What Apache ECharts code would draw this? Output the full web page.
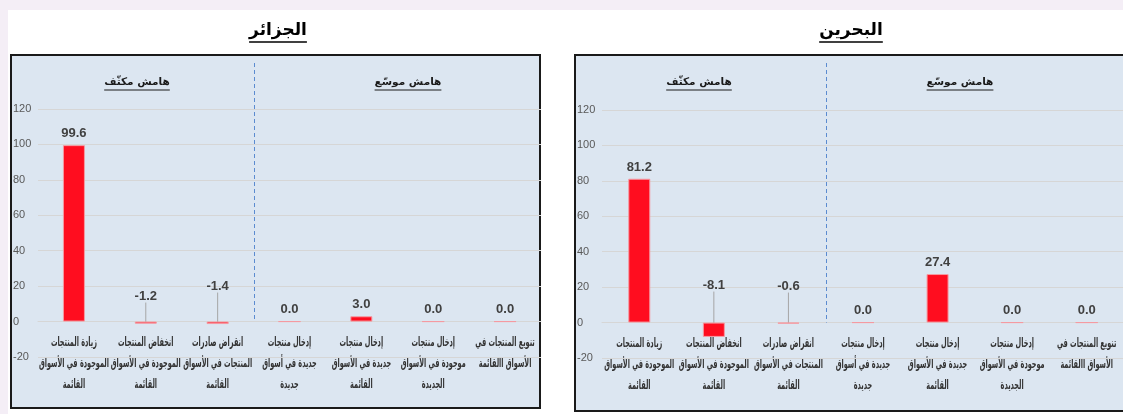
<!DOCTYPE html>
<html>
<head>
<meta charset="utf-8">
<script src="https://cdn.jsdelivr.net/npm/echarts@6/dist/echarts.min.js"></script>
<style>
  html, body { margin: 0; padding: 0; background: #f4eef6; }
  #chart { width: 1123px; height: 414px; }
</style>
</head>
<body>
<div id="chart"></div>
<script>
// البيانات
const categories = [
  'زيادة المنتجات\nالموجودة في الأسواق\nالقائمة',
  'انخفاض المنتجات\nالموجودة في الأسواق\nالقائمة',
  'انقراض صادرات\nالمنتجات في الأسواق\nالقائمة',
  'إدخال منتجات\nجديدة في أسواق\nجديدة',
  'إدخال منتجات\nجديدة في الأسواق\nالقائمة',
  'إدخال منتجات\nموجودة في الأسواق\nالجديدة',
  'تنويع المنتجات في\nالأسواق االقائمة'
];
const algeriaValues = [99.6, -1.2, -1.4, 0.0, 3.0, 0.0, 0.0];
const bahrainValues = [81.2, -8.1, -0.6, 0.0, 27.4, 0.0, 0.0];
const yMin = -20;
const yMax = 120;
const yStep = 20;
const countryNames = ['الجزائر', 'البحرين'];
const marginNames = ['هامش مكثّف', 'هامش موسّع'];

const barRed = '#ff0d1f';
const textDark = '#333333';
const arabicFont = '"DejaVu Sans", sans-serif';
const numFont = '"Liberation Sans Narrow", "Liberation Sans", sans-serif';
const catFont = 'bold 12.5px ' + arabicFont;

// panel layout (pixels)
const panels = [
  {
    name: countryNames[0], values: algeriaValues,
    box: { x: 11, y: 55, w: 529, h: 353 },
    grid: { left: 38, top: 109, width: 503, height: 248, outerBoundsMode: 'none', containLabel: false },
    titleX: 278, headX: [137, 408],
    lift: [0, 14, 24, 0, 0, 0, 0]
  },
  {
    name: countryNames[1], values: bahrainValues,
    box: { x: 575, y: 55, w: 560, h: 356 },
    grid: { left: 602, top: 110, width: 522, height: 248, outerBoundsMode: 'none', containLabel: false },
    titleX: 851, headX: [699, 960],
    lift: [0, 26, 25, 0, 0, 0, 0]
  }
];

const ctx = document.createElement('canvas').getContext('2d');
function textWidth (text, font) {
  ctx.font = font;
  return ctx.measureText(text).width;
}

// the Arabic font available is wide, so squeeze the category lines horizontally
const catLines = categories.map(c => c.split('\n'));
const widestLine = Math.max(...catLines.flat().map(s => textWidth(s, catFont)));
const catScale = Math.min(1, 70 / widestLine);

const chart = echarts.init(document.getElementById('chart'));

const grids = [];
const xAxes = [];
const yAxes = [];
const series = [];
const graphics = [
  { type: 'rect', shape: { x: 8, y: 10, width: 1115, height: 404 }, style: { fill: '#ffffff' }, z: -10 }
];

panels.forEach((p, i) => {
  grids.push(p.grid);
  xAxes.push({
    type: 'category',
    gridIndex: i,
    data: categories,
    axisLine: { onZero: true, lineStyle: { color: '#d6d6d6', width: 1 } },
    axisTick: { show: false },
    axisLabel: { show: false }
  });
  yAxes.push({
    type: 'value',
    gridIndex: i,
    min: yMin,
    max: yMax,
    interval: yStep,
    axisLine: { show: false },
    axisTick: { show: false },
    splitLine: { lineStyle: { color: '#d6d6d6', width: 1 } },
    axisLabel: {
      align: 'left',
      margin: 25,
      fontFamily: numFont,
      fontSize: 11,
      color: '#595959'
    }
  });
  series.push({
    type: 'bar',
    xAxisIndex: i,
    yAxisIndex: i,
    data: p.values.map(v => (v < 0 ? { value: v, labelLine: { show: true } } : v)),
    barWidth: 22,
    itemStyle: { color: barRed, borderColor: '#f59aa2', borderWidth: 1 },
    label: {
      show: true,
      position: 'top',
      distance: 5,
      formatter: (d) => d.value.toFixed(1),
      fontFamily: numFont,
      fontSize: 13,
      fontWeight: 'bold',
      color: '#404040'
    },
    labelLine: { show: false, lineStyle: { color: '#a6a6a6', width: 1 } },
    labelLayout: (params) => {
      const v = p.values[params.dataIndex];
      if (v < 0) {
        return { dy: -p.lift[params.dataIndex] };
      }
      return {};
    }
  });

  // frame
  graphics.push({
    type: 'rect',
    shape: { x: p.box.x, y: p.box.y, width: p.box.w, height: p.box.h },
    style: { fill: '#dce6f1', stroke: '#1a1a1a', lineWidth: 2 },
    z: -5
  });

  // country title
  const titleFont = 'bold 17px ' + arabicFont;
  const tw = textWidth(p.name, titleFont);
  graphics.push({
    type: 'text', x: p.titleX, y: 31,
    style: { text: p.name, font: titleFont, fill: '#000000', align: 'center', verticalAlign: 'middle' }
  });
  graphics.push({
    type: 'line',
    shape: { x1: p.titleX - tw / 2, y1: 42, x2: p.titleX + tw / 2, y2: 42 },
    style: { stroke: '#000000', lineWidth: 1.5 }
  });

  // margin headings
  const headFont = 'bold 10.5px ' + arabicFont;
  marginNames.forEach((m, k) => {
    const hw = textWidth(m, headFont);
    const hx = p.headX[k];
    graphics.push({
      type: 'text', x: hx, y: 82,
      style: { text: m, font: headFont, fill: '#1a1a1a', align: 'center', verticalAlign: 'middle' }
    });
    graphics.push({
      type: 'line',
      shape: { x1: hx - hw / 2, y1: 90, x2: hx + hw / 2, y2: 90 },
      style: { stroke: '#1a1a1a', lineWidth: 1 }
    });
  });
});

chart.setOption({
  backgroundColor: '#f4eef6',
  animation: false,
  grid: grids,
  xAxis: xAxes,
  yAxis: yAxes,
  series: series,
  graphic: graphics
});

const extra = [];
panels.forEach((p, i) => {
  const finder = { xAxisIndex: i, yAxisIndex: i };
  // dashed separator between the two margin groups
  const a = chart.convertToPixel(finder, [2, 0]);
  const b = chart.convertToPixel(finder, [3, 0]);
  const sx = Math.round((a[0] + b[0]) / 2) + 0.5;
  extra.push({
    type: 'line',
    shape: { x1: sx, y1: p.box.y + 8, x2: sx, y2: a[1] },
    style: { stroke: '#5b8bd0', lineWidth: 1, lineDash: [4, 3] },
    z: 5
  });
  // category labels, placed under the zero line of each category
  catLines.forEach((lines, j) => {
    const pt = chart.convertToPixel(finder, [j, 0]);
    lines.forEach((line, k) => {
      extra.push({
        type: 'text',
        x: pt[0],
        y: pt[1] + 21 + k * 21,
        scaleX: catScale,
        style: { text: line, font: catFont, fill: textDark, align: 'center', verticalAlign: 'middle' }
      });
    });
  });
});
chart.setOption({ graphic: graphics.concat(extra) });
</script>
</body>
</html>
